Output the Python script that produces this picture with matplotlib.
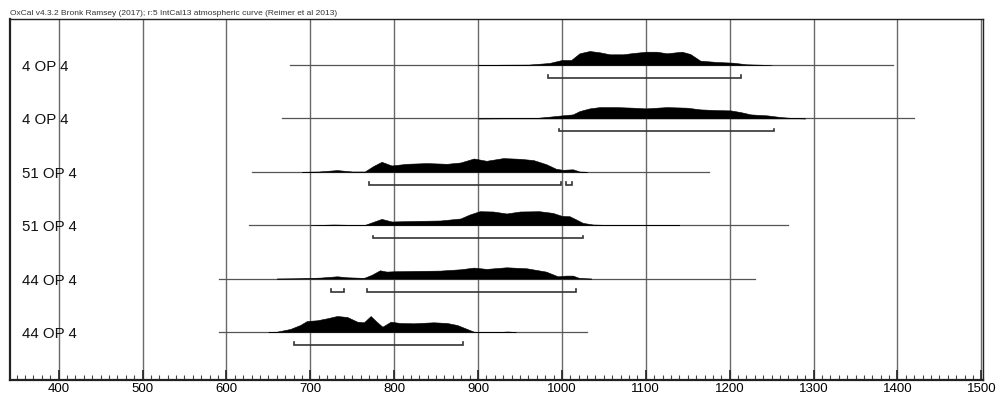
import matplotlib
matplotlib.use("Agg")
import matplotlib.pyplot as plt

plt.rcParams['font.family'] = ['Liberation Sans', 'DejaVu Sans']

# ---------------- data ----------------
labels = ["4 OP 4", "4 OP 4", "51 OP 4", "51 OP 4", "44 OP 4", "44 OP 4"]
line_start = [676, 666, 631, 627, 591, 591]
line_end = [1395, 1420, 1175, 1270, 1230, 1030]
ranges95 = [
    [(983, 1214)],
    [(997, 1253)],
    [(770, 999), (1005, 1012)],
    [(775, 1025)],
    [(725, 740), (768, 1017)],
    [(680, 882)],
]

row1_years = [900, 930, 960, 985, 1000, 1011, 1021, 1033, 1045, 1057, 1073, 1085, 1101, 1113, 1125, 1143, 1153, 1165, 1185, 1204, 1220, 1250]
row1_dens = [0, 0.3, 0.4, 2, 5, 5, 11.7, 14, 12.7, 10.7, 10.7, 12, 13.3, 13.3, 11.7, 13.3, 11, 4.3, 3, 2.3, 0.7, 0]

row2_years = [900, 955, 970, 985, 1000, 1013, 1021, 1033, 1045, 1065, 1085, 1100, 1125, 1149, 1165, 1185, 1201, 1213, 1225, 1245, 1261, 1277, 1290]
row2_dens = [0, 0.3, 0.5, 1.7, 3, 4, 7.3, 10, 11.3, 11.3, 10.7, 10, 11.3, 10.7, 9, 8.3, 8, 6.3, 4, 3, 1.3, 0.3, 0]

row3_years = [690, 710, 732, 750, 765, 775, 785, 797, 815, 839, 863, 879, 895, 910, 930, 950, 966, 981, 993, 1001, 1013, 1021, 1030]
row3_dens = [0, 0.3, 1.7, 0.3, 0.3, 5.7, 10, 6.3, 8, 8.7, 8, 9.3, 13.3, 11, 13.7, 13, 11.7, 7.7, 3, 2, 2.5, 0.3, 0]

row4_years = [700, 728, 750, 765, 775, 785, 797, 827, 855, 879, 890, 902, 918, 934, 950, 973, 989, 1000, 1009, 1017, 1025, 1037, 1053, 1070, 1110, 1140]
row4_dens = [0, 0.7, 0.3, 0.3, 3.3, 6.3, 3.7, 4.3, 4.7, 6.7, 10.7, 14, 13.7, 11.7, 13.7, 14, 12.3, 9.3, 9, 5.7, 2.3, 0.7, 0.3, 0, 0.3, 0]

row5_years = [660, 688, 712, 732, 744, 764, 773, 783, 791, 799, 827, 855, 879, 895, 910, 934, 958, 981, 995, 1005, 1013, 1021, 1035]
row5_dens = [0, 0.3, 1, 2.3, 1.3, 0.7, 3.7, 8.3, 7, 7.3, 7.7, 8, 9.3, 11, 9.7, 11.3, 10.3, 7, 2.3, 3, 3, 0.5, 0]

row6_years = [650, 660, 676, 688, 696, 708, 720, 732, 744, 756, 764, 772, 779, 786, 796, 807, 823, 847, 863, 875, 887, 895, 905, 925, 935, 945]
row6_dens = [0, 0.3, 3, 7, 11, 11.7, 13.7, 16, 15, 10.3, 9.7, 16, 10.3, 5.3, 10.3, 9, 8.7, 9.7, 9, 7, 3, 0.3, 0, 0, 0.5, 0]

years_list = [row1_years, row2_years, row3_years, row4_years, row5_years, row6_years]
dens_list = [row1_dens, row2_dens, row3_dens, row4_dens, row5_dens, row6_dens]

major_ticks = [400, 500, 600, 700, 800, 900, 1000, 1100, 1200, 1300, 1400, 1500]
title = "OxCal v4.3.2 Bronk Ramsey (2017); r:5 IntCal13 atmospheric curve (Reimer et al 2013)"

# ---------------- figure ----------------
W, H = 996, 394
fig = plt.figure(figsize=(W / 100, H / 100), dpi=100)
left, right, top, bottom = 10, 983, 19, 380
ax = fig.add_axes([left / W, (H - bottom) / H, (right - left) / W, (bottom - top) / H])
ax.set_xlim(342, 1502)
ax.set_ylim(0, bottom - top)

grid_c = '#6a6a6a'
for t in major_ticks:
    ax.axvline(t, color=grid_c, lw=1.0, zorder=1)

row_gap = 53.4
first_base = (bottom - top) - (65 - top)
for i in range(len(labels)):
    base = first_base - i * row_gap
    ax.plot([line_start[i], line_end[i]], [base, base], color='#555555', lw=0.9, zorder=2)
    ys = [base + d for d in dens_list[i]]
    ax.fill_between(years_list[i], base, ys, color='black', lw=0.4, edgecolor='black', zorder=3)
    by = base - 13
    for (a, b) in ranges95[i]:
        ax.plot([a, a, b, b], [by + 2.6, by, by, by + 2.6], color='#333333', lw=1.2,
                solid_joinstyle='miter', zorder=3)
    ax.text(356, base - 2, labels[i], ha='left', va='center', fontsize=10.8, color='#111111')

ax.set_xticks(major_ticks)
ax.set_xticks(range(350, 1501, 10), minor=True)
ax.set_xticklabels([str(t) for t in major_ticks], fontsize=9.5)
ax.tick_params(axis='x', which='major', direction='in', length=7, width=1.2, pad=2, color='#222222')
ax.tick_params(axis='x', which='minor', direction='in', length=3.5, width=0.8, color='#444444')
ax.set_yticks([])
for s in ['left', 'bottom']:
    ax.spines[s].set_linewidth(1.6)
    ax.spines[s].set_color('#222222')
for s in ['top', 'right']:
    ax.spines[s].set_linewidth(1.0)
    ax.spines[s].set_color('#222222')

fig.text(left / W, 1 - 17 / H, title, fontsize=6.0, color='#333333', ha='left', va='bottom')

fig.savefig('out.png', dpi=100)
